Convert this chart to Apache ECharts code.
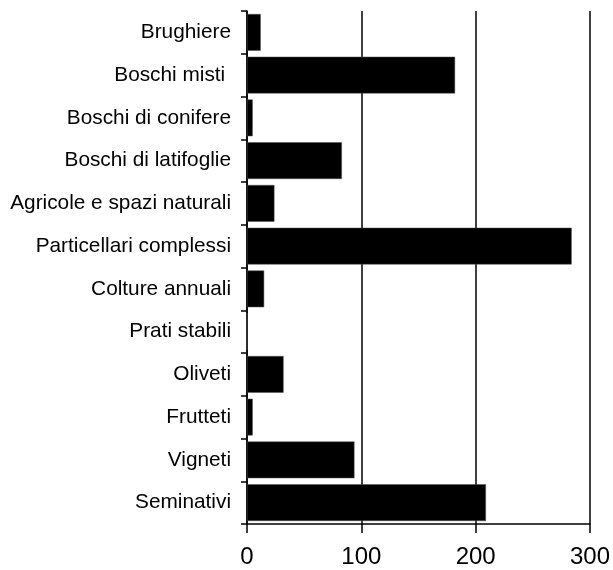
<!DOCTYPE html>
<html>
<head>
<meta charset="utf-8">
<script src="https://cdn.jsdelivr.net/npm/echarts@6/dist/echarts.min.js"></script>
<style>
  html, body { margin: 0; padding: 0; background: #fff; }
  #chart { width: 613px; height: 570px; }
</style>
</head>
<body>
<div id="chart"></div>
<script>
  // categories listed bottom to top (category axis on y starts at the bottom)
  var categories = ['Seminativi', 'Vigneti', 'Frutteti', 'Oliveti', 'Prati stabili',
    'Colture annuali', 'Particellari complessi', 'Agricole e spazi naturali',
    'Boschi di latifoglie', 'Boschi di conifere', 'Boschi misti ', 'Brughiere'];
  var values = [209, 94, 5, 32, 0, 15, 284, 24, 83, 5, 182, 12];
  var xTicks = [0, 100, 200, 300];

  var chart = echarts.init(document.getElementById('chart'));
  chart.setOption({
    animation: false,
    grid: { left: 247, right: 23, top: 11, bottom: 46 },
    xAxis: {
      type: 'value',
      min: xTicks[0],
      max: xTicks[xTicks.length - 1],
      interval: 100,
      axisLine: { show: true, lineStyle: { color: '#000', width: 1.5 } },
      axisTick: { show: true, length: 9, lineStyle: { color: '#000', width: 1.5 } },
      axisLabel: { color: '#000', fontSize: 24, fontFamily: 'Liberation Sans, Arial', margin: 21 },
      splitLine: { show: true, lineStyle: { color: '#000', width: 1.5 } }
    },
    yAxis: {
      type: 'category',
      data: categories,
      axisLine: { show: true, lineStyle: { color: '#000', width: 1.5 } },
      axisTick: { show: true, length: 6, lineStyle: { color: '#000', width: 1.5 } },
      axisLabel: { color: '#000', fontSize: 20.8, fontFamily: 'Liberation Sans, Arial', margin: 16 }
    },
    series: [{
      type: 'bar',
      data: values,
      barCategoryGap: '14%',
      itemStyle: { color: '#000', borderColor: '#555', borderWidth: 0.5 }
    }]
  });
</script>
</body>
</html>
